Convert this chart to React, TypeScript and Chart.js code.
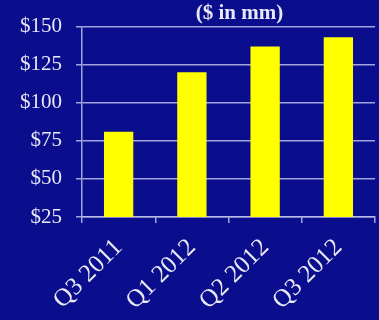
import React, { useEffect, useRef } from "react";
import { Chart, registerables } from "chart.js";

Chart.register(...registerables);

const categories = ["Q3 2011", "Q1 2012", "Q2 2012", "Q3 2012"];
const values = [81, 120, 137, 143];
const yTicks = [25, 50, 75, 100, 125, 150];
const titleText = "($ in mm)";

const BG = "#0b0e8c";
const GRID = "rgba(190,190,235,0.85)";
const TEXT = "#e8e8f6";

export default function App() {
  const ref = useRef<HTMLCanvasElement | null>(null);

  useEffect(() => {
    document.body.style.margin = "0";
    const canvas = ref.current!;
    const titlePlugin = {
      id: "customTitle",
      afterDraw(chart: any) {
        const { ctx, chartArea } = chart;
        ctx.save();
        ctx.fillStyle = TEXT;
        ctx.font = "bold 21px 'Liberation Serif'";
        ctx.textAlign = "center";
        ctx.textBaseline = "alphabetic";
        ctx.fillText(titleText, (chartArea.left + chartArea.right) / 2 + 11, 19);
        ctx.restore();
      },
    };
    const chart = new Chart(canvas, {
      type: "bar",
      data: {
        labels: categories,
        datasets: [
          {
            data: values,
            backgroundColor: "#ffff00",
            borderWidth: 0,
            barPercentage: 0.4,
            categoryPercentage: 1,
          },
        ],
      },
      options: {
        animation: false,
        responsive: false,
        maintainAspectRatio: false,
        layout: { padding: { top: 26, right: 4, left: 0, bottom: 0 } },
        plugins: { legend: { display: false }, tooltip: { enabled: false }, title: { display: false } },
        scales: {
          x: {
            grid: {
              display: true,
              drawOnChartArea: false,
              drawTicks: true,
              tickLength: 6,
              color: GRID,
              lineWidth: 1.5,
              offset: true,
            },
            border: { display: true, color: GRID, width: 1.5 },
            ticks: {
              color: TEXT,
              font: { family: "'Liberation Serif'", size: 25 },
              minRotation: 45,
              maxRotation: 45,
              padding: 10,
              autoSkip: false,
            },
            afterFit(scale: any) {
              scale.height = 103;
            },
          },
          y: {
            min: 25,
            max: 150,
            afterBuildTicks(scale: any) {
              scale.ticks = yTicks.map((v) => ({ value: v }));
            },
            grid: {
              color: GRID,
              lineWidth: 1.5,
              tickLength: 6,
              drawTicks: true,
            },
            border: { display: true, color: GRID, width: 1.5 },
            ticks: {
              color: TEXT,
              font: { family: "'Liberation Serif'", size: 21 },
              padding: 14,
              callback: (v: any) => "$" + v,
            },
            afterFit(scale: any) {
              scale.width = 82;
            },
          },
        },
      },
      plugins: [titlePlugin],
    });
    return () => chart.destroy();
  }, []);

  return (
    <div style={{ width: 379, height: 320, background: BG, position: "relative" }}>
      <canvas ref={ref} width={379} height={320} style={{ display: "block" }} />
    </div>
  );
}
